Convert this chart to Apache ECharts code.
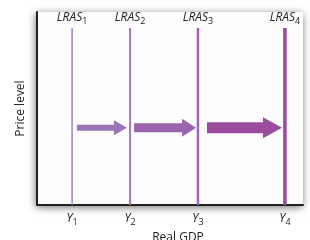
<!DOCTYPE html>
<html>
<head>
<meta charset="utf-8">
<script src="https://cdn.jsdelivr.net/npm/echarts@6/dist/echarts.min.js"></script>
<style>
  html, body { margin: 0; padding: 0; background: #fff; }
  #chart { width: 310px; height: 240px; }
</style>
</head>
<body>
<div id="chart"></div>
<script>
// LRAS shifts to the right, x and y in 0-100 units
const curveNames = ['LRAS', 'LRAS', 'LRAS', 'LRAS'];
const curveSubs = ['1', '2', '3', '4'];
const potentialGdp = [13.2, 35.0, 60.5, 93.2];
const curveTop = 91.7;
const arrowLevel = 40;
const arrowFrom = [15.0, 36.5, 63.9];
const arrowTo = [33.8, 59.8, 92.1];

const lineColors = ['#a87dc6', '#a373c2', '#a064b8', '#9b4b9f'];
const lineWidths = [1.5, 2, 2.5, 3.5];
const arrowColors = ['#9b75b8', '#9c64af', '#9b4c9f'];
// shaft half width, head half width, head length (px)
const arrowShape = [[3, 7.5, 13], [4.5, 9, 14], [5.5, 10.5, 19]];

const font = '"Open Sans", "Noto Sans", sans-serif';
const subRich = {
    n: { fontFamily: font, fontStyle: 'italic', fontSize: 12, color: '#222' },
    s: { fontFamily: font, fontSize: 9, color: '#222', padding: [8, 0, 0, 0] }
};

const chart = echarts.init(document.getElementById('chart'));

const series = potentialGdp.map((x, i) => ({
    type: 'line',
    silent: true,
    symbol: 'circle',
    symbolSize: 0,
    lineStyle: { color: lineColors[i], width: lineWidths[i] },
    itemStyle: { color: lineColors[i] },
    data: [
        [x, 0],
        {
            value: [x, curveTop],
            label: {
                show: true,
                position: 'top',
                distance: 2,
                formatter: `{n|${curveNames[i]}}{s|${curveSubs[i]}}`,
                rich: subRich
            }
        }
    ]
}));

series.push({
    type: 'custom',
    silent: true,
    encode: { x: [0, 1], y: 2 },
    data: arrowFrom.map((x, i) => [x, arrowTo[i], arrowLevel]),
    renderItem: function (params, api) {
        const a = api.coord([api.value(0), api.value(2)]);
        const b = api.coord([api.value(1), api.value(2)]);
        const s = arrowShape[params.dataIndex];
        const y = a[1];
        const neck = b[0] - s[2];
        return {
            type: 'polygon',
            shape: {
                points: [
                    [a[0], y - s[0]], [neck, y - s[0]], [neck, y - s[1]],
                    [b[0], y], [neck, y + s[1]], [neck, y + s[0]], [a[0], y + s[0]]
                ]
            },
            style: { fill: arrowColors[params.dataIndex] }
        };
    }
});

const option = {
    animation: false,
    grid: {
        left: 37, right: 7, top: 12, bottom: 35,
        outerBoundsMode: 'none',
        show: true,
        backgroundColor: '#fcfcfc',
        borderWidth: 0,
        shadowColor: 'rgba(0,0,0,0.6)',
        shadowBlur: 8,
        shadowOffsetX: -1,
        shadowOffsetY: 2
    },
    xAxis: {
        type: 'value',
        min: 0, max: 100,
        name: 'Real GDP',
        nameLocation: 'middle',
        nameGap: 25,
        nameTextStyle: { fontFamily: font, fontSize: 12, color: '#222', padding: [0, 0, 0, 16] },
        splitLine: { show: false },
        axisLine: { show: true, lineStyle: { color: '#222', width: 2 } },
        axisTick: { show: false },
        axisLabel: {
            customValues: potentialGdp,
            margin: 5,
            formatter: function (v) {
                const i = potentialGdp.indexOf(v);
                return i < 0 ? '' : `{n|Y}{s|${curveSubs[i]}}`;
            },
            rich: subRich
        }
    },
    yAxis: {
        type: 'value',
        min: 0, max: 100,
        name: 'Price level',
        nameLocation: 'middle',
        nameGap: 10,
        nameTextStyle: { fontFamily: font, fontSize: 12, color: '#222' },
        splitLine: { show: false },
        axisLine: { show: true, lineStyle: { color: '#222', width: 2 } },
        axisTick: { show: false },
        axisLabel: { show: false }
    },
    series: series
};

chart.setOption(option);
</script>
</body>
</html>
